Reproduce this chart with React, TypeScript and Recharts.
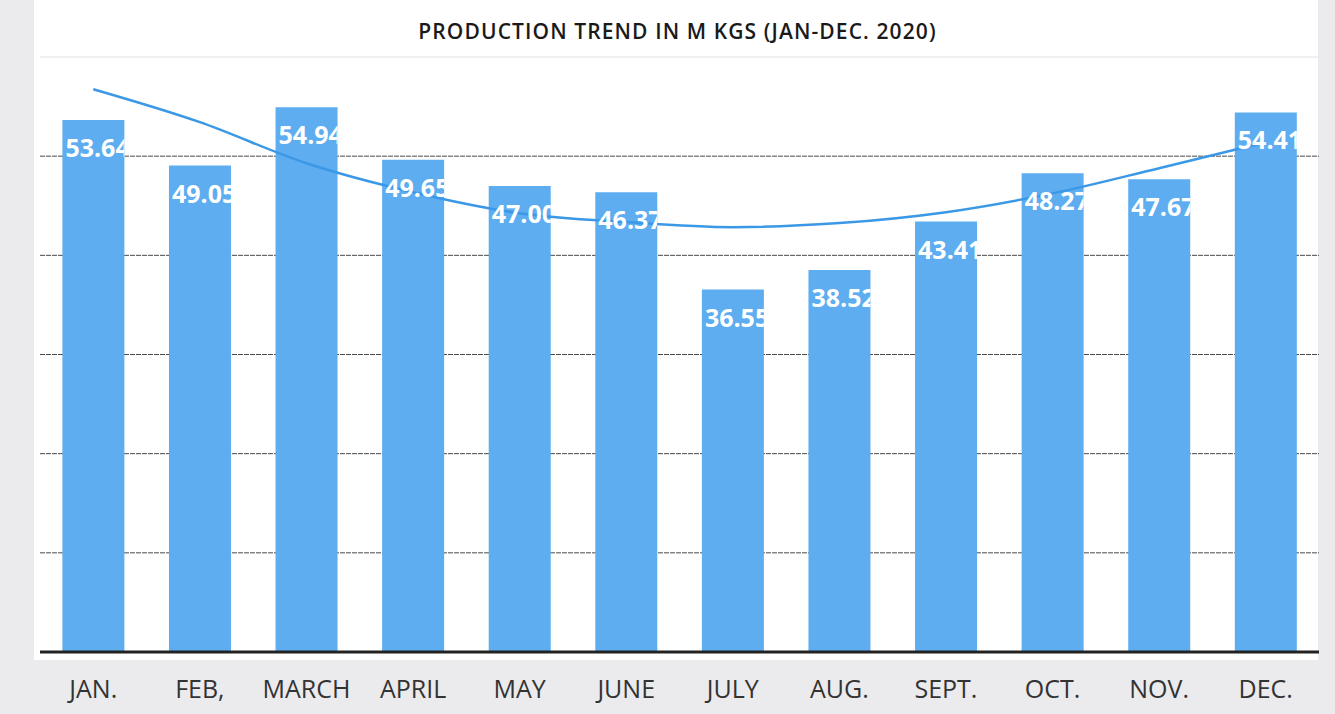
import React from "react";
import { ComposedChart, Bar, Line, XAxis, YAxis, CartesianGrid, LabelList, ReferenceLine } from "recharts";

const months = ["JAN.", "FEB,", "MARCH", "APRIL", "MAY", "JUNE", "JULY", "AUG.", "SEPT.", "OCT.", "NOV.", "DEC."];
const production = [53.64, 49.05, 54.94, 49.65, 47.0, 46.37, 36.55, 38.52, 43.41, 48.27, 47.67, 54.41];
const trend = [56.75, 53.43, 49.29, 46.37, 44.25, 43.35, 42.84, 43.25, 44.35, 46.25, 48.79, 51.41];
const gridValues = [10, 20, 30, 40, 50];

const data = months.map((m, i) => ({ month: m, production: production[i], trend: trend[i] }));

const BarLabel = (props: any) => {
  const { x, y, width, value } = props;
  const id = `clip-${Math.round(x)}`;
  return (
    <g>
      <defs>
        <clipPath id={id}>
          <rect x={x} y={y} width={width} height={60} />
        </clipPath>
      </defs>
      <text
        x={x + 3}
        y={y + 37}
        fill="#ffffff"
        fontFamily="'Open Sans', sans-serif"
        fontWeight={700}
        fontSize={25}
        clipPath={`url(#${id})`}
      >
        {Number(value).toFixed(2)}
      </text>
    </g>
  );
};

export default function App() {
  return (
    <div style={{ position: "absolute", left: 0, top: 0, width: 1335, height: 714, background: "#ebebee", overflow: "hidden" }}>
      <div style={{ position: "absolute", left: 34, top: 0, width: 1284, height: 660, background: "#ffffff" }} />
      <div
        style={{
          position: "absolute",
          left: 0,
          top: 17,
          width: 1355,
          textAlign: "center",
          fontFamily: "'Open Sans', sans-serif",
          fontWeight: 600,
          fontSize: 21,
          letterSpacing: 1.1,
          color: "#1a1a1a",
        }}
      >
        PRODUCTION TREND IN M KGS (JAN-DEC. 2020)
      </div>
      <div style={{ position: "absolute", left: 0, top: 0 }}>
        <ComposedChart width={1335} height={714} data={data} margin={{ top: 57, right: 16, bottom: 12, left: 40 }} barCategoryGap="21%">
          <CartesianGrid vertical={false} stroke="#4a4a4a" strokeDasharray="5 1" horizontalValues={gridValues} />
          <ReferenceLine y={60} stroke="#e2e2e2" strokeWidth={1} />
          <YAxis hide domain={[0, 60]} ticks={[0, 10, 20, 30, 40, 50, 60]} />
          <XAxis
            dataKey="month"
            height={50}
            axisLine={{ stroke: "#222", strokeWidth: 3 }}
            tickLine={false}
            interval={0}
            tick={{ fill: "#333", fontFamily: "'Open Sans', sans-serif", fontSize: 25 }}
            dy={20}
          />
          <Bar dataKey="production" fill="#5dadf0" isAnimationActive={false}>
            <LabelList dataKey="production" content={BarLabel} />
          </Bar>
          <Line dataKey="trend" type="monotone" stroke="#3b98e6" strokeWidth={2.5} dot={false} isAnimationActive={false} />
        </ComposedChart>
      </div>
    </div>
  );
}
